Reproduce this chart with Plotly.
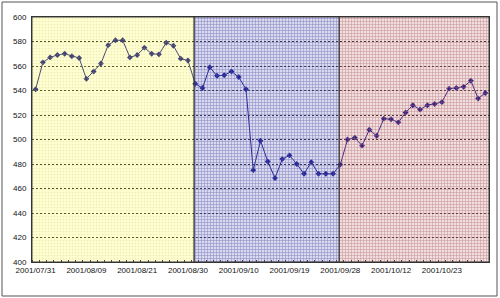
import plotly.graph_objects as go

# ---- data ----
day_index = list(range(63))
price = [541, 563, 567, 569, 570, 568, 566.5, 549.5, 555.5, 562,
         577, 581, 581, 567, 569, 575, 570, 569.5, 579, 576.5,
         566, 564.5, 545.5, 542, 559, 552, 552.5, 555.5, 551, 541,
         475, 499, 482, 468.5, 484, 487, 480, 472, 481.5, 472,
         472, 472, 479.5, 500, 501.5, 495, 508, 503, 517, 516.5,
         514, 522, 528, 524.5, 528, 529, 530.5, 541.5, 542, 543,
         548, 533.5, 538]
tick_index = [0, 7, 14, 21, 28, 35, 42, 49, 56]
tick_labels = ["2001/07/31", "2001/08/09", "2001/08/21", "2001/08/30",
               "2001/09/10", "2001/09/19", "2001/09/28", "2001/10/12",
               "2001/10/23"]
period_start = [0, 22, 42]

W, H = 500, 298
ML, MR, MT, MB = 32, 11, 17, 36
YMIN, YMAX = 400, 600

fig = go.Figure()

fig.add_trace(go.Scatter(
    x=day_index, y=price, mode="lines+markers",
    line=dict(color="#000080", width=1),
    marker=dict(symbol="diamond", size=4.5, color="#000080"),
    hoverinfo="skip", showlegend=False))

# period overlays (semi-transparent, drawn above like the original)
styles = [
    dict(fillcolor="rgba(255,255,80,0.26)",
         fillpattern=dict(shape=".", size=3, solidity=0.25,
                          fgcolor="rgb(190,190,110)", fgopacity=0.3,
                          bgcolor="rgba(255,255,80,0.26)")),
    dict(fillcolor="rgba(80,80,170,0.40)",
         fillpattern=dict(shape="+", size=3, solidity=0.35,
                          fgcolor="rgb(80,80,165)", fgopacity=0.55,
                          bgcolor="rgba(130,130,205,0.30)")),
    dict(fillcolor="rgba(170,80,80,0.36)",
         fillpattern=dict(shape="+", size=3, solidity=0.35,
                          fgcolor="rgb(170,95,100)", fgopacity=0.55,
                          bgcolor="rgba(205,135,140,0.28)")),
]
edges = [s - 0.15 for s in period_start] + [len(day_index) - 0.5]
edges[0] = -0.5
for k in range(len(period_start)):
    x0, x1 = edges[k], edges[k + 1]
    fig.add_trace(go.Scatter(
        x=[x0, x1, x1, x0, x0], y=[YMIN, YMIN, YMAX, YMAX, YMIN],
        mode="lines", fill="toself",
        line=dict(color="rgba(50,50,50,0.9)", width=1),
        hoverinfo="skip", showlegend=False, **styles[k]))

font = dict(family="Liberation Sans, Arial, sans-serif", size=8, color="#111111")

fig.update_xaxes(
    range=[-0.5, len(day_index) - 0.5], tickmode="array",
    tickvals=tick_index, ticktext=tick_labels, tickfont=font,
    showgrid=False, zeroline=False,
    showline=True, linecolor="#333333", linewidth=1, mirror=True,
    ticks="", ticklen=0,
    minor=dict(ticks="inside", ticklen=2, tickcolor="#444444",
               tickmode="linear", tick0=-0.5, dtick=1, showgrid=False))
fig.update_yaxes(
    range=[YMIN, YMAX], tickmode="linear", tick0=400, dtick=20,
    tickfont=font, showgrid=True, gridcolor="#111111", gridwidth=1,
    griddash="2px,2px", zeroline=False,
    showline=True, linecolor="#333333", linewidth=1, mirror=True,
    ticks="", ticklabelstandoff=3)

pw, ph = W - ML - MR, H - MT - MB
def px(x):
    return (x - ML) / pw
def py(y):
    return 1 - (y - MT) / ph

fig.add_shape(type="rect", xref="paper", yref="paper",
              x0=px(2), x1=px(497), y0=py(296), y1=py(2),
              line=dict(color="#555555", width=1), layer="below")

fig.update_layout(
    width=W, height=H, margin=dict(l=ML, r=MR, t=MT, b=MB),
    paper_bgcolor="white", plot_bgcolor="white", showlegend=False)

fig.write_html("out.html")
